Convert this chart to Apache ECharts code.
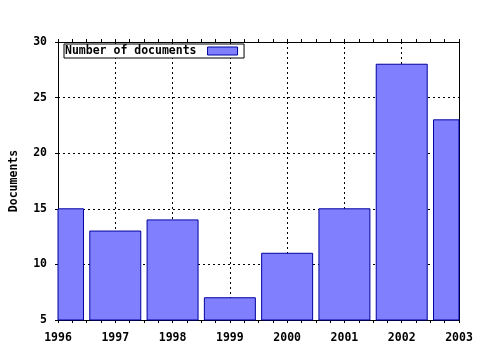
<!DOCTYPE html>
<html><head><meta charset="utf-8">
<script src="https://cdn.jsdelivr.net/npm/echarts@6/dist/echarts.min.js"></script>
<style>html,body{margin:0;padding:0;background:#fff}#c{width:480px;height:350px}</style>
</head><body><div id="c"></div>
<script>
const years = [1996, 1997, 1998, 1999, 2000, 2001, 2002, 2003];
const documents = [15, 13, 14, 7, 11, 15, 28, 23];
const seriesName = 'Number of documents';
const yTitle = 'Documents';

const font = 'DejaVu Sans Mono';
const fs = 11.5;
const barFill = '#8080ff', barEdge = '#0000a0';
const chart = echarts.init(document.getElementById('c'), null, {renderer: 'canvas'});
const axisLine = {show: true, lineStyle: {color: '#000', width: 1}};
const split = {show: true, lineStyle: {color: '#000', type: [2, 3], width: 1}};
const tick = {show: true, inside: false, length: 3, lineStyle: {color: '#000'}};
const minor = {show: true, splitNumber: 4, length: 3, lineStyle: {color: '#000'}};
const yMin = 5;
chart.setOption({
  animation: false,
  backgroundColor: '#fff',
  grid: {left: 57, right: 21, top: 42, bottom: 30, containLabel: false},
  legend: {
    data: [{name: seriesName, icon: 'rect', itemStyle: {color: barFill, borderColor: barEdge, borderWidth: 1}}],
    left: 64, top: 44, align: 'right',
    itemWidth: 30, itemHeight: 8, itemGap: 0,
    padding: [1, 6, 1, 1], borderColor: '#000', borderWidth: 1, backgroundColor: '#fff',
    textStyle: {fontFamily: font, fontWeight: 'bold', fontSize: fs, color: '#000', padding: [0, 6, 0, 0]}
  },
  xAxis: [
    {type: 'value', min: 1996, max: 2003, interval: 1, position: 'bottom',
     axisLine, axisTick: tick, minorTick: minor,
     axisLabel: {formatter: v => String(v), fontFamily: font, fontWeight: 'bold', fontSize: fs, color: '#000', margin: 12},
     splitLine: split},
    {type: 'value', min: 1996, max: 2003, interval: 1, position: 'top',
     axisLine, axisTick: tick, minorTick: minor,
     axisLabel: {show: false}, splitLine: {show: false}}
  ],
  yAxis: [
    {type: 'value', min: yMin, max: 30, interval: 5, position: 'left',
     name: yTitle, nameLocation: 'middle', nameGap: 38, nameRotate: 90,
     nameTextStyle: {fontFamily: font, fontWeight: 'bold', fontSize: fs, color: '#000'},
     axisLine, axisTick: tick,
     axisLabel: {fontFamily: font, fontWeight: 'bold', fontSize: fs, color: '#000', margin: 11},
     splitLine: split},
    {type: 'value', min: yMin, max: 30, interval: 5, position: 'right',
     axisLine, axisTick: {show: false},
     axisLabel: {show: false}, splitLine: {show: false}}
  ],
  series: [{
    name: seriesName, type: 'custom', xAxisIndex: 0, yAxisIndex: 0,
    data: years.map((y, i) => [y, documents[i]]),
    encode: {x: 0, y: 1},
    z: 3,
    renderItem: function (params, api) {
      const x = api.value(0), v = api.value(1);
      const top = api.coord([x, v]);
      const base = api.coord([x, yMin]);
      const w = api.size([0.89, 0])[0];
      const cs = params.coordSys;
      const rect = echarts.graphic.clipRectByRect(
        {x: top[0] - w / 2, y: top[1], width: w, height: base[1] - top[1]},
        {x: cs.x, y: cs.y, width: cs.width, height: cs.height});
      return rect && {type: 'rect', shape: rect,
        style: {fill: barFill, stroke: barEdge, lineWidth: 1}};
    }
  }]
});
</script></body></html>
